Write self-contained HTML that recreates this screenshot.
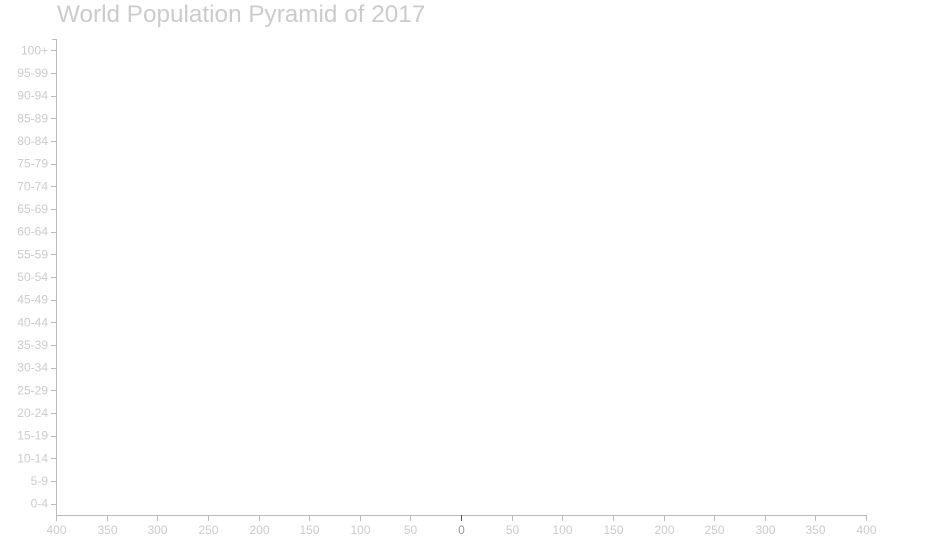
<!DOCTYPE html>
<html><head><meta charset="utf-8"><style>
html,body{margin:0;padding:0;background:#fff;width:931px;height:543px;overflow:hidden}
svg{display:block;font-family:"Liberation Sans",Arial,sans-serif}
</style></head><body>
<svg id="chart" width="931" height="543">
<text x="57" y="22" font-size="24.3" fill="#ccc">World Population Pyramid of 2017</text>
<g id="axes"></g><g id="bars"></g>
</svg>
<script>
const ageGroups=["0-4","5-9","10-14","15-19","20-24","25-29","30-34","35-39","40-44","45-49","50-54","55-59","60-64","65-69","70-74","75-79","80-84","85-89","90-94","95-99","100+"];
const maleValues=[0,0,0,0,0,0,0,0,0,0,0,0,0,0,0,0,0,0,0,0,0];
const femaleValues=[0,0,0,0,0,0,0,0,0,0,0,0,0,0,0,0,0,0,0,0,0];
const xTickLabels=[400,350,300,250,200,150,100,50,0,50,100,150,200,250,300,350,400];
const xTickValues=[-400,-350,-300,-250,-200,-150,-100,-50,0,50,100,150,200,250,300,350,400];
const NS="http://www.w3.org/2000/svg";
const L=56,R=866,T=39,B=515,maxV=400;
const x=v=>461+(v/maxV)*(R-461);
const band=(B-T)/ageGroups.length;
const y=i=>B-(i+1)*band;
const axes=document.getElementById('axes'),bars=document.getElementById('bars');
function mk(tag,a,p){const e=document.createElementNS(NS,tag);for(const k in a)e.setAttribute(k,a[k]);p.appendChild(e);return e;}
let yl=mk('line',{x1:L+.5,y1:T,x2:L+.5,y2:B+.5,stroke:'#bbb'},axes);


mk('line',{x1:L-4,y1:T+.5,x2:L+.5,y2:T+.5,stroke:'#bbb'},axes);
let xl=mk('line',{x1:L,y1:B+.5,x2:R+.5,y2:B+.5,stroke:'#bbb'},axes);


ageGroups.forEach((g,i)=>{
  const cy=y(i)+band/2;
  mk('line',{x1:L-5,y1:Math.round(cy)+.5,x2:L,y2:Math.round(cy)+.5,stroke:'#bbb'},axes);
  const t=mk('text',{x:L-8,y:cy+4,'text-anchor':'end','font-size':12,fill:'#ccc'},axes);
  t.textContent=g;
  
  
  const w1=x(0)-x(-maleValues[i]);
  const m=mk('rect',{x:x(-maleValues[i]),y:y(i)+1,width:Math.max(0,w1),height:band-2,fill:'#4a90d9'},bars);
  
  
  const f=mk('rect',{x:x(0),y:y(i)+1,width:Math.max(0,x(femaleValues[i])-x(0)),height:band-2,fill:'#e07a9a'},bars);
  
  
});
xTickValues.forEach((v,i)=>{
  const px=Math.round(x(v))+.5;const zero=v===0;
  mk('line',{x1:px,y1:B,x2:px,y2:B+6,stroke:zero?'#555':'#bbb'},axes);
  const t=mk('text',{x:px,y:B+19,'text-anchor':'middle','font-size':12,fill:zero?'#999':'#ccc'},axes);
  t.textContent=xTickLabels[i];
  
  
});
</script>
</body></html>
